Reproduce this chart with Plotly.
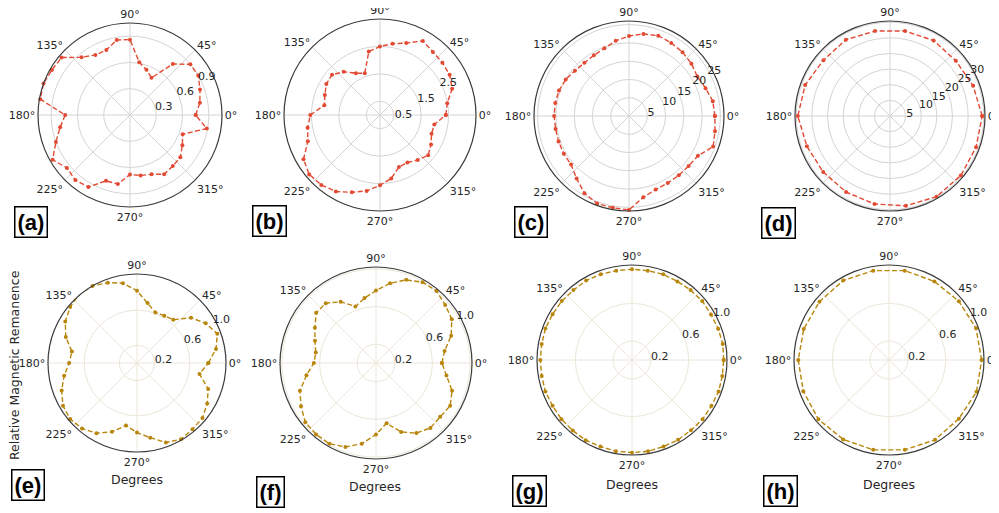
import plotly.graph_objects as go

W, H = 999, 513
PAD = 8  # page body margin offset

# ---------------- data ----------------
theta10 = list(range(0, 360, 10))
theta20 = list(range(0, 360, 20))

r_a = [0.75, 0.81, 0.85, 0.90, 0.90, 0.76, 0.49, 0.55, 0.61, 0.86, 0.87, 0.79,
       0.79, 0.86, 1.02, 1.03, 1.05, 1.04, 0.74, 0.81, 0.90, 1.02, 0.94, 0.97,
       0.95, 0.80, 0.80, 0.68, 0.70, 0.72, 0.78, 0.76, 0.75, 0.69, 0.64, 0.89]

r_b = [2.40, 2.49, 2.80, 2.93, 2.97, 3.00, 3.12, 2.79, 2.64, 2.50, 2.35, 1.62,
       1.76, 2.06, 2.28, 2.26, 2.14, 2.06, 2.54, 2.68, 2.80, 3.22, 3.37, 3.33,
       3.22, 3.00, 2.81, 2.56, 2.35, 2.02, 2.00, 2.14, 2.29, 2.15, 2.00, 2.01]

r_c = [23.5, 23.3, 22.3, 21.6, 22.3, 22.8, 23.1, 23.4, 22.8, 21.9, 20.9, 19.7,
       19.2, 19.0, 19.3, 20.0, 20.4, 20.5, 20.5, 20.4, 20.5, 20.6, 20.7, 22.3,
       24.4, 25.5, 25.5, 25.7, 22.6, 21.4, 21.2, 21.2, 21.3, 21.8, 24.5, 23.9]

r_d = [29.5, 28.3, 27.5, 27.9, 27.6, 27.6, 28.2, 27.8, 28.9,
       29.5, 28.3, 27.9, 28.1, 28.6, 29.2, 29.8, 29.6, 29.3]

r_e = [0.81, 0.91, 0.97, 0.90, 0.80, 0.64, 0.62, 0.61, 0.69, 0.82, 0.92, 0.97,
       1.01, 1.02, 0.99, 0.94, 0.86, 0.75, 0.77, 0.84, 0.91, 0.97, 0.99, 0.97,
       0.92, 0.83, 0.72, 0.79, 0.86, 0.96, 1.00, 0.98, 0.97, 0.92, 0.86, 0.72]

r_f = [0.70, 0.74, 0.85, 0.93, 0.96, 1.00, 0.99, 0.94, 0.86, 0.77, 0.70, 0.64,
       0.75, 0.83, 0.83, 0.75, 0.69, 0.65, 0.66, 0.75, 0.86, 0.92, 0.98, 0.99,
       0.99, 0.95, 0.87, 0.76, 0.65, 0.78, 0.86, 0.90, 0.89, 0.91, 0.86, 0.76]

r_g = [0.97, 0.975, 0.97, 0.965, 0.97, 0.965, 0.96, 0.965, 0.96, 0.96, 0.96, 0.965,
       0.97, 0.965, 0.97, 0.97, 0.975, 0.97, 0.97, 0.97, 0.975, 0.97, 0.975, 0.975,
       0.98, 0.975, 0.98, 0.98, 0.98, 0.975, 0.975, 0.97, 0.975, 0.97, 0.975, 0.97]

r_h = [0.98, 0.98, 0.965, 0.96, 0.96, 0.96, 0.97, 0.96, 0.96,
       0.96, 0.965, 0.975, 0.97, 0.965, 0.965, 0.975, 0.965, 0.985]

angle_ticks = [0, 45, 90, 135, 180, 225, 270, 315]
angle_text = ["0°", "45°", "90°", "135°", "180°", "225°", "270°", "315°"]

panel_labels = ["(a)", "(b)", "(c)", "(d)", "(e)", "(f)", "(g)", "(h)"]
radial_ticks = [[0.3, 0.6, 0.9], [0.5, 1.5, 2.5], [5, 10, 15, 20, 25],
                [5, 10, 15, 20, 25, 30], [0.2, 0.6, 1.0], [0.2, 0.6, 1.0],
                [0.2, 0.6, 1.0], [0.2, 0.6, 1.0]]
radial_max = [1.05, 3.5, 26.0, 30.4, 1.01, 1.02, 1.005, 1.005]

series = [(theta10, r_a), (theta10, r_b), (theta10, r_c), (theta20, r_d),
          (theta10, r_e), (theta10, r_f), (theta10, r_g), (theta20, r_h)]

# ---------------- layout geometry (screen pixels) ----------------
centers = [(130, 115, 92), (380, 115, 96), (629, 116, 95), (890, 116, 95),
           (137, 363, 89), (376, 363, 96), (632, 360, 95), (889, 360, 95)]
label_pos = [(31, 222), (269, 221), (531, 222), (778, 223),
             (28, 485), (270, 492), (529, 491), (780, 491)]

RED = "#E24A33"
GOLD = "#B8860B"
FONT = "DejaVu Sans"
RLABEL_ANGLE = 35


def px(x):
    return (x - PAD) / W


def py(y):
    return 1 - (y - PAD) / H


fig = go.Figure()
layout = dict(width=W, height=H, margin=dict(l=0, r=0, t=0, b=0),
              paper_bgcolor="white", showlegend=False, annotations=[])

for i, ((th, rr), (cx, cy, R)) in enumerate(zip(series, centers)):
    key = "polar" if i == 0 else f"polar{i+1}"
    color = RED if i < 4 else GOLD
    grid = "#d4d4d4" if i < 4 else "#ece6d8"
    fig.add_trace(go.Scatterpolar(
        r=rr + [rr[0]], theta=th + [th[0]], mode="lines+markers",
        line=dict(color=color, width=1.4, dash="5px,2.5px"),
        marker=dict(color=color, size=4), subplot=key))
    layout[key] = dict(
        domain=dict(x=[px(cx - R), px(cx + R)], y=[py(cy + R), py(cy - R)]),
        bgcolor="white",
        angularaxis=dict(rotation=0, direction="counterclockwise",
                         tickmode="array", tickvals=angle_ticks, ticktext=angle_text,
                         showline=True, linecolor="#3a3a3a", linewidth=1.2,
                         gridcolor=grid, gridwidth=1, ticks="",
                         tickfont=dict(family=FONT, size=11, color="#262626")),
        radialaxis=dict(range=[0, radial_max[i]], tickmode="array",
                        tickvals=radial_ticks[i],
                        ticktext=[str(v) for v in radial_ticks[i]],
                        angle=RLABEL_ANGLE, tickangle=RLABEL_ANGLE, showline=False,
                        ticks="", gridcolor=grid, gridwidth=1, side="clockwise",
                        tickfont=dict(family=FONT, size=11, color="#262626")),
    )
    lx, ly = label_pos[i]
    layout["annotations"].append(dict(
        text=f"<b>{panel_labels[i]}</b>", x=px(lx), y=py(ly),
        xref="paper", yref="paper", showarrow=False, xanchor="center", yanchor="middle",
        font=dict(family="Liberation Sans", size=22, color="black"),
        bordercolor="black", borderwidth=1.5, borderpad=2, bgcolor="white"))

# axis titles
for (x, y) in [(137, 479), (375, 486), (632, 484), (889, 484)]:
    layout["annotations"].append(dict(
        text="Degrees", x=px(x), y=py(y), xref="paper", yref="paper",
        showarrow=False, xanchor="center", yanchor="middle",
        font=dict(family=FONT, size=12.5, color="#262626")))
layout["annotations"].append(dict(
    text="Relative Magnetic Remanence", x=px(14), y=py(365),
    xref="paper", yref="paper", showarrow=False, textangle=-90,
    xanchor="center", yanchor="middle",
    font=dict(family=FONT, size=12.5, color="#262626")))

fig.update_layout(**layout)
fig.write_html("out.html")
